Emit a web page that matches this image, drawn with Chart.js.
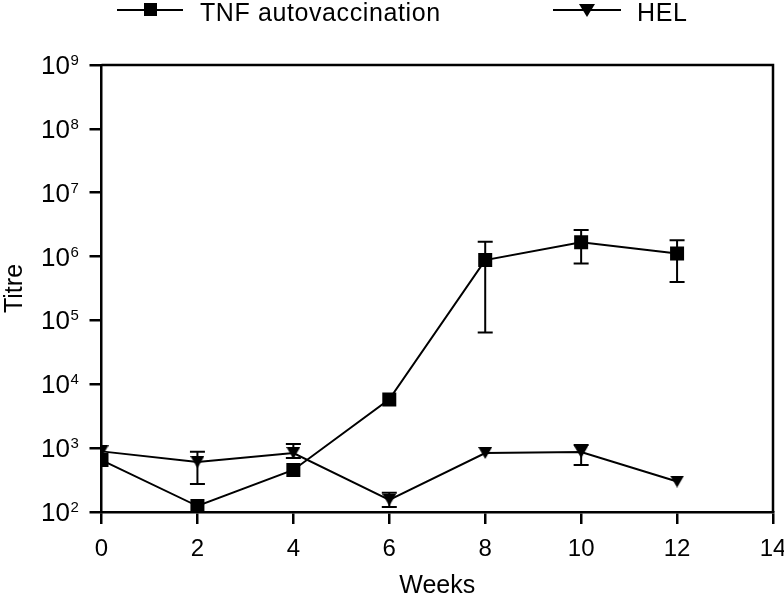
<!DOCTYPE html>
<html>
<head>
<meta charset="utf-8">
<script src="https://cdn.jsdelivr.net/npm/chart.js@4.4.0/dist/chart.umd.min.js"></script>
<style>
  html, body { margin: 0; padding: 0; background: #fff; }
  #wrap { position: relative; width: 784px; height: 604px; overflow: hidden; font-family: "Liberation Sans", Arial, sans-serif; }
  #wrap canvas { position: absolute; left: 0; top: 0; }
  .leg { position: absolute; top: 0; font-size: 25px; line-height: 24px; letter-spacing: 0.6px; color: #000; white-space: nowrap; }
  .ln { position: absolute; height: 2px; background: #000; }
  .sq { position: absolute; width: 13px; height: 13px; background: #000; }
  .tri { position: absolute; width: 0; height: 0; border-left: 8px solid transparent; border-right: 8px solid transparent; border-top: 13px solid #000; }
</style>
</head>
<body>
<div id="wrap">
  <canvas id="titre-chart" width="784" height="604"></canvas>
  <!-- legend, cut off at the top like the figure -->
  <div class="ln" style="left:117px;top:9px;width:66px"></div>
  <div class="sq" style="left:144px;top:3px"></div>
  <div class="leg" style="left:200px">TNF autovaccination</div>
  <div class="ln" style="left:553px;top:9px;width:68px"></div>
  <div class="tri" style="left:579px;top:4px"></div>
  <div class="leg" style="left:637px">HEL</div>
</div>
<script>
// data //
const weeks = [0, 2, 4, 6, 8, 10, 12];

const tnfTitre = [650, 124, 455, 5800, 880000, 1670000, 1120000];
const tnfLow   = [null, null, null, null, 65000, 780000, 400000];
const tnfHigh  = [null, null, null, null, 1700000, 2600000, 1800000];

const helTitre = [890, 605, 840, 155, 840, 870, 300];
const helLow   = [null, 275, 700, 120, null, 545, null];
const helHigh  = [null, 880, 1160, 200, null, 1120, null];

const xTicks = [0, 2, 4, 6, 8, 10, 12, 14];
const yTicks = [1e2, 1e3, 1e4, 1e5, 1e6, 1e7, 1e8, 1e9];
const yTickBase = '10';
const yTickExp = ['2', '3', '4', '5', '6', '7', '8', '9'];

const FONT = '"Liberation Sans", Arial, sans-serif';

// down triangle marker, centred on its box
function makeTriangle(w, h) {
  const c = document.createElement('canvas');
  c.width = w; c.height = h;
  const g = c.getContext('2d');
  g.fillStyle = '#000';
  g.beginPath();
  g.moveTo(0, 0); g.lineTo(w, 0); g.lineTo(w / 2, h);
  g.closePath(); g.fill();
  return c;
}
const triangle = makeTriangle(14, 12);

function toPoints(ys) {
  return weeks.map((w, i) => ({ x: w, y: ys[i] }));
}

// error bars + box + 10^n labels
const extras = {
  id: 'extras',
  beforeDatasetsDraw(chart) {
    const { ctx } = chart;
    const xs = chart.scales.x, ys = chart.scales.y;
    const sets = [[tnfLow, tnfHigh], [helLow, helHigh]];
    ctx.save();
    ctx.strokeStyle = '#000';
    ctx.lineWidth = 2;
    sets.forEach(([lo, hi]) => {
      weeks.forEach((w, i) => {
        if (lo[i] == null) return;
        const x = xs.getPixelForValue(w);
        const y1 = ys.getPixelForValue(lo[i]);
        const y2 = ys.getPixelForValue(hi[i]);
        ctx.beginPath();
        ctx.moveTo(x, y1); ctx.lineTo(x, y2);
        ctx.moveTo(x - 7.5, y1); ctx.lineTo(x + 7.5, y1);
        ctx.moveTo(x - 7.5, y2); ctx.lineTo(x + 7.5, y2);
        ctx.stroke();
      });
    });
    ctx.restore();
  },
  afterDraw(chart) {
    const { ctx, chartArea: a } = chart;
    const ys = chart.scales.y;
    ctx.save();
    // top and right sides of the box
    ctx.strokeStyle = '#000';
    ctx.lineWidth = 2.5;
    ctx.beginPath();
    ctx.moveTo(a.left, a.top); ctx.lineTo(a.right, a.top); ctx.lineTo(a.right, a.bottom);
    ctx.stroke();
    // y tick labels as 10 with a raised exponent
    ctx.fillStyle = '#000';
    ys.ticks.forEach(t => {
      const i = yTicks.indexOf(t.value);
      const y = ys.getPixelForValue(t.value);
      ctx.font = '26px ' + FONT;
      ctx.textAlign = 'right';
      ctx.textBaseline = 'alphabetic';
      ctx.fillText(yTickBase, 70, y + 9);
      ctx.font = '15px ' + FONT;
      ctx.textAlign = 'left';
      ctx.fillText(yTickExp[i], 70.5, y);
    });
    ctx.restore();
  }
};

new Chart(document.getElementById('titre-chart'), {
  type: 'line',
  data: {
    datasets: [{
      label: 'TNF autovaccination',
      data: toPoints(tnfTitre),
      borderColor: '#000',
      backgroundColor: '#000',
      borderWidth: 2,
      pointStyle: 'rect',
      pointRadius: 9.9,
      pointBorderWidth: 0,
      tension: 0
    }, {
      label: 'HEL',
      data: toPoints(helTitre),
      borderColor: '#000',
      backgroundColor: '#000',
      borderWidth: 2,
      pointStyle: triangle,
      pointRadius: 7,
      tension: 0
    }]
  },
  options: {
    responsive: false,
    animation: false,
    layout: { padding: { top: 65, right: 11, left: 0, bottom: 0 } },
    plugins: { legend: { display: false }, tooltip: { enabled: false } },
    elements: { line: { clip: false } },
    scales: {
      x: {
        type: 'linear',
        min: 0, max: 14,
        afterBuildTicks: s => { s.ticks = xTicks.map(v => ({ value: v })); },
        afterFit: s => { s.height = 92; s.paddingLeft = 0; s.paddingRight = 0; },
        ticks: { color: '#000', font: { family: FONT, size: 24 }, padding: 11, maxRotation: 0 },
        grid: { drawOnChartArea: false, color: '#000', lineWidth: 2.5, tickLength: 12 },
        border: { color: '#000', width: 2.5 },
        title: { display: true, text: 'Weeks', color: '#000', font: { family: FONT, size: 25 }, padding: { bottom: 3 } }
      },
      y: {
        type: 'logarithmic',
        min: 1e2, max: 1e9,
        afterBuildTicks: s => { s.ticks = yTicks.map(v => ({ value: v })); },
        afterFit: s => { s.width = 101.5; s.paddingTop = 0; s.paddingBottom = 0; },
        ticks: { display: false },
        grid: { drawOnChartArea: false, color: '#000', lineWidth: 2.5, tickLength: 12 },
        border: { color: '#000', width: 2.5 },
        title: { display: true, text: 'Titre', color: '#000', font: { family: FONT, size: 25 }, padding: { top: 0 } }
      }
    }
  },
  plugins: [extras]
});
</script>
</body>
</html>
